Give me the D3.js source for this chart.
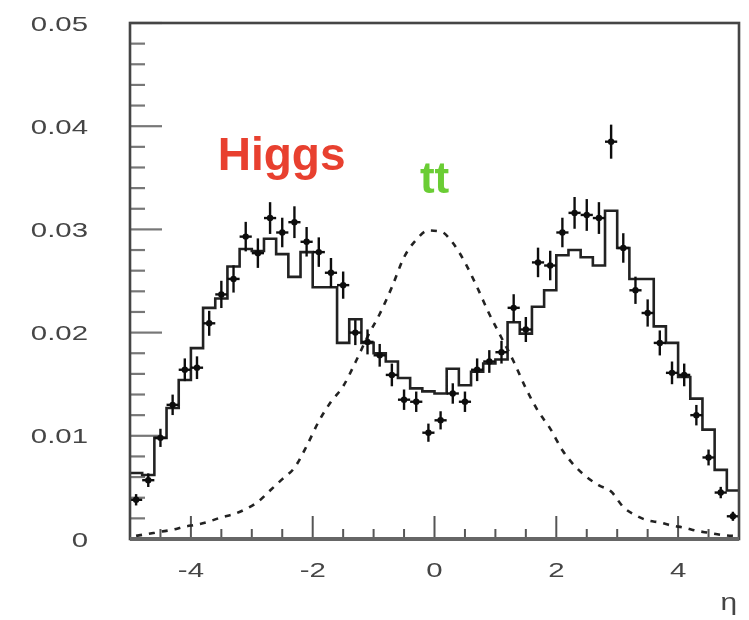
<!DOCTYPE html>
<html><head><meta charset="utf-8">
<script src="https://cdn.jsdelivr.net/npm/d3@7"></script>
<style>body{margin:0;background:#fff}</style>
</head><body><svg id="c" width="749" height="620"></svg>
<script>
// ---- data ----
const etaCenters = [-4.9,-4.7,-4.5,-4.3,-4.1,-3.9,-3.7,-3.5,-3.3,-3.1,-2.9,-2.7,-2.5,-2.3,-2.1,-1.9,-1.7,-1.5,-1.3,-1.1,
  -0.9,-0.7,-0.5,-0.3,-0.1,0.1,0.3,0.5,0.7,0.9,1.1,1.3,1.5,1.7,1.9,2.1,2.3,2.5,2.7,2.9,
  3.1,3.3,3.5,3.7,3.9,4.1,4.3,4.5,4.7,4.9];
const dataValues = [0.0038,0.0057,0.0098,0.0130,0.0164,0.0166,0.0209,0.0237,0.0252,0.0293,0.0277,0.0311,0.0297,0.0307,0.0288,0.0278,0.0258,0.0246,0.0200,0.0191,
  0.0178,0.0159,0.0135,0.0133,0.0103,0.0115,0.0141,0.0133,0.0164,0.0172,0.0181,0.0224,0.0203,0.0268,0.0265,0.0297,0.0316,0.0314,0.0311,0.0385,
  0.0282,0.0241,0.0219,0.0190,0.0161,0.0159,0.0120,0.0079,0.0045,0.0022];
const dataErrors = [0.0005,0.0006,0.0008,0.0009,0.0010,0.0010,0.0011,0.0012,0.0012,0.0013,0.0013,0.0014,0.0013,0.0014,0.0013,0.0013,0.0013,0.0012,0.0011,0.0011,
  0.0010,0.0010,0.0009,0.0009,0.0008,0.0008,0.0009,0.0009,0.0010,0.0010,0.0010,0.0012,0.0011,0.0013,0.0013,0.0013,0.0014,0.0014,0.0014,0.0015,
  0.0013,0.0012,0.0012,0.0011,0.0010,0.0010,0.0009,0.0007,0.0005,0.0004];
const higgsHist = [0.0064,0.0062,0.0098,0.0127,0.0154,0.0185,0.0224,0.0233,0.0264,0.0281,0.0279,0.0291,0.0276,0.0254,0.0278,0.0244,0.0244,0.0190,0.0213,0.0190,
  0.0180,0.0172,0.0156,0.0146,0.0143,0.0141,0.0165,0.0149,0.0162,0.0170,0.0174,0.0210,0.0199,0.0225,0.0241,0.0275,0.0280,0.0273,0.0265,0.0318,
  0.0282,0.0252,0.0252,0.0206,0.0190,0.0157,0.0136,0.0106,0.0067,0.0047];
const ttCurve = [0.0003,0.0005,0.0007,0.0009,0.0012,0.0014,0.0017,0.0021,0.0024,0.0029,0.0036,0.0047,0.0058,0.0069,0.0090,0.0114,0.0133,0.0148,0.0171,0.0196,
  0.0218,0.0244,0.0273,0.0290,0.0299,0.0298,0.0287,0.0268,0.0244,0.0218,0.0195,0.0172,0.0146,0.0124,0.0107,0.0086,0.0071,0.0060,0.0052,0.0046,
  0.0031,0.0023,0.0018,0.0016,0.0013,0.0011,0.0008,0.0006,0.0004,0.0003];
const yTicks = [0,0.01,0.02,0.03,0.04,0.05];
const yTickLabels = ["0","0.01","0.02","0.03","0.04","0.05"];
const xTicks = [-4,-2,0,2,4];
const xTickLabels = ["-4","-2","0","2","4"];
const xDomain = [-5,5];
const yDomain = [0,0.05];
const xTitle = "η";
const labelHiggs = "Higgs", labelTt = "tt";

// ---- layout ----
const svg = d3.select("#c");
const L = 130, R = 739, T = 23, B = 539;
const x = d3.scaleLinear().domain(xDomain).range([L, R]);
const y = d3.scaleLinear().domain(yDomain).range([B, T]);

const defs = svg.append("defs");
defs.append("filter").attr("id","soft").attr("x","-5%").attr("y","-5%").attr("width","110%").attr("height","110%")
  .append("feGaussianBlur").attr("stdDeviation", 0.6);

const g = svg.append("g").attr("filter","url(#soft)");

// y ticks (inside, pointing right)
const yMinor = d3.range(0, 26).map(i => i * 0.002);
g.append("g").selectAll("line").data(yMinor).join("line")
  .attr("x1", L).attr("x2", d => L + (yTicks.some(t => Math.abs(t - d) < 1e-9) ? 32 : 15))
  .attr("y1", d => y(d)).attr("y2", d => y(d))
  .attr("stroke", "#777").attr("stroke-width", 2.2);

// x ticks (inside, pointing up)
const xMinor = d3.range(0, 21).map(i => -5 + i * 0.5);
g.append("g").selectAll("line").data(xMinor).join("line")
  .attr("x1", d => x(d)).attr("x2", d => x(d))
  .attr("y1", B).attr("y2", d => B - (xTicks.some(t => Math.abs(t - d) < 1e-9) ? 23 : 10))
  .attr("stroke", "#555").attr("stroke-width", 2);

// dashed tt curve
const line = d3.line().x((d, i) => x(etaCenters[i])).y(d => y(d)).curve(d3.curveMonotoneX);
g.append("path").attr("d", line(ttCurve))
  .attr("fill", "none").attr("stroke", "#222").attr("stroke-width", 2.6)
  .attr("stroke-dasharray", "6,7");

// Higgs histogram (step)
const bw = etaCenters[1] - etaCenters[0];
const stepPts = higgsHist.map((v, i) => [etaCenters[i] - bw / 2, v]);
stepPts.push([etaCenters[etaCenters.length - 1] + bw / 2, higgsHist[higgsHist.length - 1]]);
const stepLine = d3.line().x(d => x(d[0])).y(d => y(d[1])).curve(d3.curveStepAfter);
g.append("path").attr("d", stepLine(stepPts))
  .attr("fill", "none").attr("stroke", "#222").attr("stroke-width", 2.6);

// data points with error bars
const dp = g.append("g");
dataValues.forEach((v, i) => {
  const cx = x(etaCenters[i]), cy = y(v);
  dp.append("line").attr("x1", cx).attr("x2", cx).attr("y1", y(v - dataErrors[i] * 1.1)).attr("y2", y(v + dataErrors[i] * 1.1))
    .attr("stroke", "#111").attr("stroke-width", 2.4);
  dp.append("line").attr("x1", x(etaCenters[i] - bw / 2)).attr("x2", x(etaCenters[i] + bw / 2)).attr("y1", cy).attr("y2", cy)
    .attr("stroke", "#111").attr("stroke-width", 2.4);
  dp.append("circle").attr("cx", cx).attr("cy", cy).attr("r", 3.2).attr("fill", "#111");
});

// frame
g.append("rect").attr("x", L).attr("y", T).attr("width", R - L).attr("height", B - T)
  .attr("fill", "none").attr("stroke", "#444").attr("stroke-width", 2.6);
g.append("line").attr("x1", L).attr("x2", R).attr("y1", B).attr("y2", B).attr("stroke", "#666").attr("stroke-width", 4);

// tick labels
const tg = svg.append("g").attr("filter","url(#soft)")
  .attr("font-family", "'Liberation Sans', Arial, Helvetica, sans-serif").attr("fill", "#444");
yTicks.forEach((t, i) => {
  tg.append("text").attr("transform", `translate(88,${y(t)}) scale(1.4,1)`)
    .attr("text-anchor", "end").attr("dy", "0.36em").attr("font-size", 21).text(yTickLabels[i]);
});
xTicks.forEach((t, i) => {
  tg.append("text").attr("transform", `translate(${x(t)},577) scale(1.4,1)`)
    .attr("text-anchor", "middle").attr("font-size", 21).text(xTickLabels[i]);
});
tg.append("text").attr("transform", `translate(737,610) scale(1.3,1)`)
  .attr("text-anchor", "end").attr("font-size", 23).text(xTitle);

// annotations
svg.append("text").attr("x", x(-3.56)).attr("y", y(0.0358))
  .attr("font-family", "'Liberation Sans', Arial, Helvetica, sans-serif").attr("font-weight", "bold")
  .attr("font-size", 46).attr("fill", "#e8402f").text(labelHiggs);
svg.append("text").attr("x", x(-0.24)).attr("y", y(0.0335))
  .attr("font-family", "'Liberation Sans', Arial, Helvetica, sans-serif").attr("font-weight", "bold")
  .attr("font-size", 44).attr("fill", "#6acd34").text(labelTt);
</script>
</body></html>
